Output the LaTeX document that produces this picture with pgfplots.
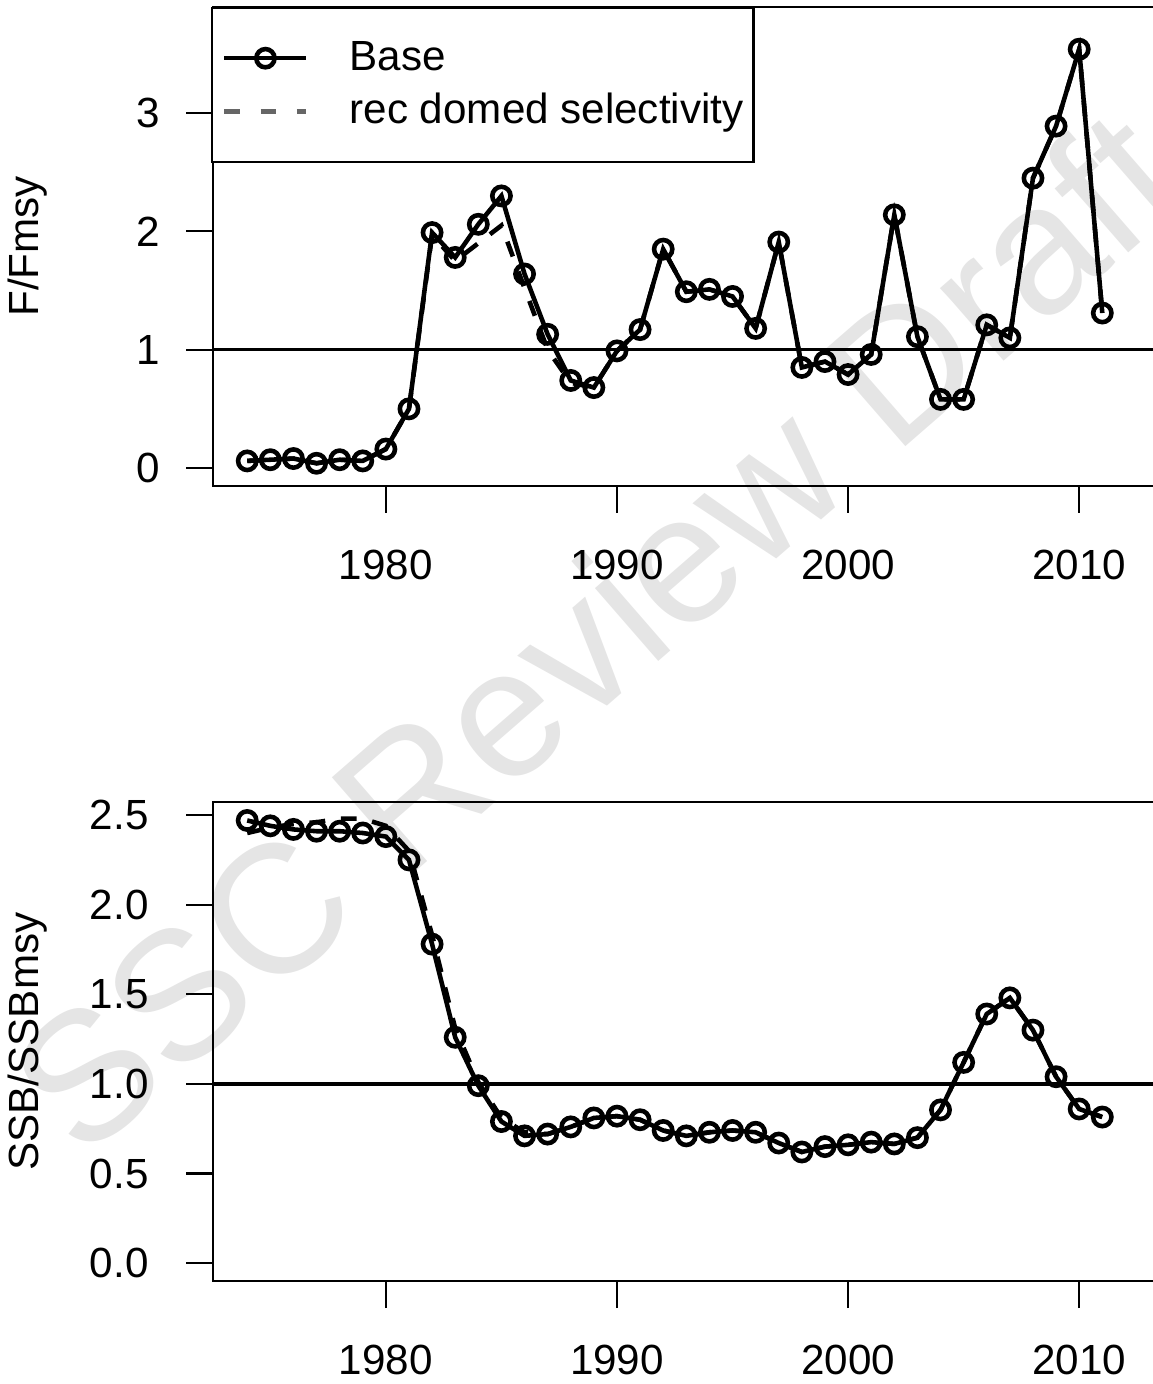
\documentclass[border=0pt]{standalone}
\usepackage{fontspec}
\setmainfont{Liberation Sans}
\usepackage{pgfplots}
\usepackage{pgfplotstable}
\pgfplotsset{compat=1.18}

\pgfplotstableread{
year base dome
1974 0.06 0.06
1975 0.07 0.07
1976 0.08 0.08
1977 0.04 0.04
1978 0.07 0.07
1979 0.06 0.06
1980 0.16 0.16
1981 0.50 0.50
1982 1.99 1.97
1983 1.78 1.75
1984 2.06 1.90
1985 2.30 2.05
1986 1.64 1.52
1987 1.13 1.00
1988 0.74 0.72
1989 0.68 0.68
1990 0.99 0.99
1991 1.17 1.17
1992 1.85 1.85
1993 1.49 1.49
1994 1.51 1.51
1995 1.45 1.45
1996 1.18 1.18
1997 1.91 1.91
1998 0.85 0.85
1999 0.90 0.90
2000 0.79 0.79
2001 0.96 0.96
2002 2.14 2.14
2003 1.11 1.11
2004 0.58 0.58
2005 0.58 0.58
2006 1.21 1.21
2007 1.10 1.10
2008 2.45 2.45
2009 2.89 2.89
2010 3.54 3.54
2011 1.31 1.31
}\ftab

\pgfplotstableread{
year base dome
1974 2.47 2.40
1975 2.44 2.43
1976 2.42 2.45
1977 2.41 2.46
1978 2.41 2.48
1979 2.40 2.48
1980 2.38 2.44
1981 2.25 2.30
1982 1.78 1.83
1983 1.26 1.31
1984 0.99 1.01
1985 0.79 0.81
1986 0.71 0.73
1987 0.72 0.72
1988 0.76 0.76
1989 0.81 0.81
1990 0.82 0.82
1991 0.80 0.80
1992 0.74 0.74
1993 0.71 0.71
1994 0.73 0.73
1995 0.74 0.74
1996 0.73 0.73
1997 0.67 0.67
1998 0.62 0.62
1999 0.65 0.65
2000 0.66 0.66
2001 0.675 0.675
2002 0.665 0.665
2003 0.70 0.70
2004 0.855 0.855
2005 1.12 1.12
2006 1.39 1.39
2007 1.48 1.48
2008 1.30 1.30
2009 1.04 1.04
2010 0.86 0.86
2011 0.815 0.815
}\btab

\pgfplotsset{
  rpanel/.style={
    scale only axis, width=9.586cm, height=4.79cm,
    xmin=1972.52, xmax=2014,
    xtick={1980,1990,2000,2010},
    xtick pos=lower, ytick pos=left,
    tick align=outside, major tick length=0.27cm,
    tick style={black, line width=0.6pt},
    axis line style={line width=0.6pt},
    /pgf/number format/assume math mode=true,
    xticklabel style={/pgf/number format/1000 sep={}, yshift=-0.25cm},
    ticklabel style={font=\fontsize{12pt}{14pt}\selectfont},
    label style={font=\fontsize{12pt}{14pt}\selectfont},
    ylabel style={at={(axis description cs:-0.1935,0.5)}, anchor=center},
  },
  baseline/.style={black, line width=1.3pt, mark=o, mark size=2.6pt,
    mark options={solid, line width=1.3pt}},
  domeline/.style={black, line width=1.3pt, dash pattern=on 4.5pt off 4.5pt},
  refline/.style={black, line width=0.95pt},
}

\begin{document}
\begin{tikzpicture}
\path[use as bounding box] (0,0) rectangle (11.53cm,-13.84cm);
\clip (0,0) rectangle (11.53cm,-13.84cm);
% watermark
\node[rotate=41, text=black!10, font=\fontsize{52pt}{56pt}\selectfont, inner sep=0pt]
  at (5.95cm,-6.3cm) {SSC Review Draft};

\begin{axis}[rpanel,
  at={(2.13cm,-0.07cm)}, anchor=north west,
  ymin=-0.152, ymax=3.897,
  ytick={0,1,2,3},
  yticklabel style={xshift=-0.14cm},
  ylabel={F/Fmsy},
  legend image code/.code={\draw[mark repeat=2,mark phase=2,#1]
    plot coordinates {(0cm,0cm) (0.41cm,0cm) (0.82cm,0cm)};},
  legend style={at={(axis description cs:-0.002,1)}, anchor=north west,
    draw=black, line width=0.6pt, fill=white,
    inner xsep=0.1cm, inner ysep=0.33cm, row sep=0.18cm, column sep=0.41cm,
    nodes={inner sep=0pt},
    font=\fontsize{12pt}{14pt}\selectfont},
  legend cell align=left,
]
\addlegendimage{baseline}
\addlegendentry{Base}
\addlegendimage{black!60, line width=1.3pt, dash pattern=on 4.3pt off 6pt}
\addlegendentry{rec domed selectivity}
\addplot[baseline, forget plot] table[x=year, y=base] {\ftab};
\addplot[domeline, forget plot] table[x=year, y=dome] {\ftab};
\addplot[refline, forget plot] coordinates {(1972.52,1) (2014,1)};
\end{axis}

\begin{axis}[rpanel,
  at={(2.13cm,-8.02cm)}, anchor=north west,
  ymin=-0.1, ymax=2.573,
  ytick={0,0.5,1,1.5,2,2.5},
  yticklabel style={/pgf/number format/.cd, fixed, fixed zerofill, precision=1,
    /tikz/.cd, xshift=-0.25cm},
  ylabel={SSB/SSBmsy},
]
\addplot[baseline] table[x=year, y=base] {\btab};
\addplot[domeline] table[x=year, y=dome] {\btab};
\addplot[refline] coordinates {(1972.52,1) (2014,1)};
\end{axis}
\end{tikzpicture}
\end{document}
